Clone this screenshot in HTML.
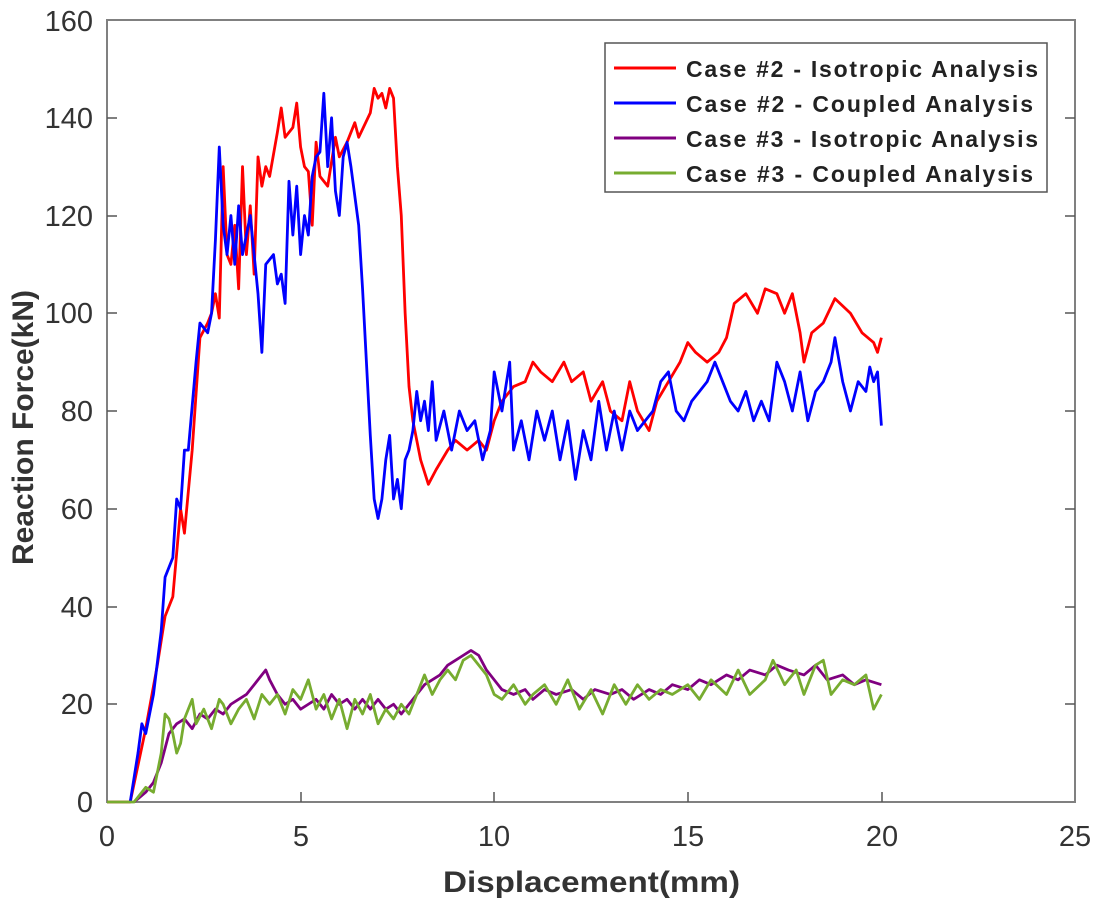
<!DOCTYPE html>
<html><head><meta charset="utf-8"><style>
html,body{margin:0;padding:0;background:#fff;}
svg{display:block;font-family:"Liberation Sans",Arial,sans-serif;}
</style></head><body>
<svg width="1102" height="899" viewBox="0 0 1102 899">
<rect x="107" y="20" width="968" height="782" fill="#fff" stroke="#808080" stroke-width="2"/>
<g stroke="#555" stroke-width="1.5">
<line x1="301" y1="802" x2="301" y2="792"/><line x1="494" y1="802" x2="494" y2="792"/><line x1="688" y1="802" x2="688" y2="792"/><line x1="882" y1="802" x2="882" y2="792"/>
<line x1="107" y1="704" x2="117" y2="704"/><line x1="107" y1="607" x2="117" y2="607"/><line x1="107" y1="509" x2="117" y2="509"/><line x1="107" y1="411" x2="117" y2="411"/><line x1="107" y1="313" x2="117" y2="313"/><line x1="107" y1="216" x2="117" y2="216"/><line x1="107" y1="118" x2="117" y2="118"/>
<line x1="1075" y1="704" x2="1065" y2="704"/><line x1="1075" y1="607" x2="1065" y2="607"/><line x1="1075" y1="509" x2="1065" y2="509"/><line x1="1075" y1="411" x2="1065" y2="411"/><line x1="1075" y1="313" x2="1065" y2="313"/><line x1="1075" y1="216" x2="1065" y2="216"/><line x1="1075" y1="118" x2="1065" y2="118"/>
</g>
<g font-size="29" fill="#333" text-anchor="end">
<text x="93" y="812">0</text><text x="93" y="714">20</text><text x="93" y="617">40</text><text x="93" y="519">60</text><text x="93" y="421">80</text><text x="93" y="323">100</text><text x="93" y="226">120</text><text x="93" y="128">140</text><text x="93" y="31">160</text>
</g>
<g font-size="29" fill="#333" text-anchor="middle">
<text x="107" y="846">0</text><text x="301" y="846">5</text><text x="494" y="846">10</text><text x="688" y="846">15</text><text x="882" y="846">20</text><text x="1075" y="846">25</text>
</g>
<text x="443" y="892" font-size="30" font-weight="bold" fill="#333" textLength="297" lengthAdjust="spacingAndGlyphs">Displacement(mm)</text>
<text transform="translate(33,565) rotate(-90)" font-size="30" font-weight="bold" fill="#333" textLength="275" lengthAdjust="spacingAndGlyphs">Reaction Force(kN)</text>
<g transform="translate(107,802) scale(38.72,-4.8875)" fill="none" stroke-width="2.8" stroke-linejoin="round">
<polyline vector-effect="non-scaling-stroke" stroke="#ff0000" points="0,0 0.6,0 1.0,15 1.3,28 1.5,38 1.7,42 1.9,60 2.0,55 2.2,72 2.4,95 2.6,98 2.7,100 2.8,104 2.9,99 3.0,130 3.1,112 3.2,110 3.3,118 3.4,105 3.5,130 3.6,112 3.7,122 3.8,108 3.9,132 4.0,126 4.1,130 4.2,128 4.4,137 4.5,142 4.6,136 4.8,138 4.9,143 5.0,134 5.1,130 5.2,129 5.3,118 5.4,135 5.5,128 5.7,126 5.9,136 6.0,132 6.2,135 6.4,139 6.5,136 6.8,141 6.9,146 7.0,144 7.1,145 7.2,142 7.3,146 7.4,144 7.5,130 7.6,120 7.7,100 7.8,85 7.9,78 8.1,70 8.3,65 8.5,68 8.8,72 9.0,74 9.3,72 9.6,74 9.8,72 10.0,78 10.2,82 10.5,85 10.8,86 11.0,90 11.2,88 11.5,86 11.8,90 12.0,86 12.3,88 12.5,82 12.8,86 13.0,80 13.3,78 13.5,86 13.7,80 14.0,76 14.2,82 14.5,86 14.8,90 15.0,94 15.2,92 15.5,90 15.8,92 16.0,95 16.2,102 16.5,104 16.8,100 17.0,105 17.3,104 17.5,100 17.7,104 17.9,96 18.0,90 18.2,96 18.5,98 18.8,103 19.2,100 19.5,96 19.8,94 19.9,92 20.0,95"/>
<polyline vector-effect="non-scaling-stroke" stroke="#0000ff" points="0.6,0 0.8,10 0.9,16 1.0,14 1.2,22 1.4,35 1.5,46 1.7,50 1.8,62 1.9,60 2.0,72 2.1,72 2.3,90 2.4,98 2.5,97 2.6,96 2.7,100 2.8,115 2.9,134 3.0,118 3.1,112 3.2,120 3.3,110 3.4,122 3.5,112 3.6,116 3.7,120 3.8,112 3.9,104 4.0,92 4.1,110 4.3,112 4.4,106 4.5,108 4.6,102 4.7,127 4.8,116 4.9,126 5.0,112 5.1,120 5.2,116 5.3,128 5.4,132 5.5,133 5.6,145 5.7,130 5.8,140 5.9,125 6.0,120 6.1,132 6.2,135 6.3,130 6.5,118 6.6,105 6.7,90 6.8,75 6.9,62 7.0,58 7.1,62 7.2,70 7.3,75 7.4,62 7.5,66 7.6,60 7.7,70 7.8,72 7.9,76 8.0,84 8.1,78 8.2,82 8.3,76 8.4,86 8.5,74 8.7,80 8.9,72 9.1,80 9.3,76 9.5,78 9.7,70 9.9,76 10.0,88 10.2,80 10.4,90 10.5,72 10.7,78 10.9,70 11.1,80 11.3,74 11.5,80 11.7,70 11.9,78 12.1,66 12.3,76 12.5,70 12.7,82 12.9,72 13.1,80 13.3,72 13.5,80 13.7,76 13.9,78 14.1,80 14.3,86 14.5,88 14.7,80 14.9,78 15.1,82 15.3,84 15.5,86 15.7,90 15.9,86 16.1,82 16.3,80 16.5,84 16.7,78 16.9,82 17.1,78 17.3,90 17.5,86 17.7,80 17.9,88 18.1,78 18.3,84 18.5,86 18.7,90 18.8,95 19.0,86 19.2,80 19.4,86 19.6,84 19.7,89 19.8,86 19.9,88 20.0,77"/>
<polyline vector-effect="non-scaling-stroke" stroke="#800080" points="0.7,0 1.0,2 1.2,4 1.4,8 1.6,14 1.8,16 2.0,17 2.2,15 2.4,18 2.6,17 2.8,19 3.0,18 3.2,20 3.4,21 3.6,22 3.8,24 4.0,26 4.1,27 4.2,25 4.4,22 4.6,20 4.8,21 5.0,19 5.2,20 5.4,21 5.6,19 5.8,22 6.0,20 6.2,21 6.4,19 6.6,21 6.8,19 7.0,21 7.2,19 7.4,20 7.6,18 7.8,20 8.0,22 8.2,24 8.4,25 8.6,26 8.8,28 9.0,29 9.2,30 9.4,31 9.6,30 9.8,27 10.0,25 10.2,23 10.5,22 10.8,23 11.0,21 11.3,23 11.6,22 12.0,23 12.3,21 12.6,23 13.0,22 13.3,23 13.6,21 14.0,23 14.3,22 14.6,24 15.0,23 15.3,25 15.6,24 16.0,26 16.3,25 16.6,27 17.0,26 17.3,28 17.6,27 18.0,26 18.3,28 18.6,25 19.0,26 19.3,24 19.6,25 20.0,24"/>
<polyline vector-effect="non-scaling-stroke" stroke="#77ac30" points="0,0 0.7,0 1.0,3 1.2,2 1.4,10 1.5,18 1.6,17 1.7,14 1.8,10 1.9,12 2.0,17 2.2,21 2.3,16 2.5,19 2.7,15 2.9,21 3.0,20 3.2,16 3.4,19 3.6,21 3.8,17 4.0,22 4.2,20 4.4,22 4.6,18 4.8,23 5.0,21 5.2,25 5.4,19 5.6,22 5.8,17 6.0,21 6.2,15 6.4,21 6.6,18 6.8,22 7.0,16 7.2,19 7.4,17 7.6,20 7.8,18 8.0,22 8.2,26 8.4,22 8.6,25 8.8,27 9.0,25 9.2,29 9.4,30 9.6,28 9.8,26 10.0,22 10.2,21 10.5,24 10.8,20 11.0,22 11.3,24 11.6,20 11.9,25 12.2,19 12.5,23 12.8,18 13.1,24 13.4,20 13.7,24 14.0,21 14.3,23 14.6,22 15.0,24 15.3,21 15.6,25 16.0,22 16.3,27 16.6,22 17.0,25 17.2,29 17.5,24 17.8,27 18.0,22 18.3,28 18.5,29 18.7,22 19.0,25 19.3,24 19.6,26 19.8,19 20.0,22"/>
</g>
<rect x="605" y="43" width="442" height="149" fill="#fff" stroke="#555" stroke-width="1.5"/>
<g stroke-width="3">
<line x1="614" y1="68" x2="676" y2="68" stroke="#ff0000"/>
<line x1="614" y1="103" x2="676" y2="103" stroke="#0000ff"/>
<line x1="614" y1="138" x2="676" y2="138" stroke="#800080"/>
<line x1="614" y1="173" x2="676" y2="173" stroke="#77ac30"/>
</g>
<g font-size="23" font-weight="bold" fill="#222" lengthAdjust="spacingAndGlyphs">
<text x="686" y="77" textLength="352">Case #2 - Isotropic Analysis</text>
<text x="686" y="112" textLength="347">Case #2 - Coupled Analysis</text>
<text x="686" y="147" textLength="352">Case #3 - Isotropic Analysis</text>
<text x="686" y="182" textLength="347">Case #3 - Coupled Analysis</text>
</g>
</svg>
</body></html>
